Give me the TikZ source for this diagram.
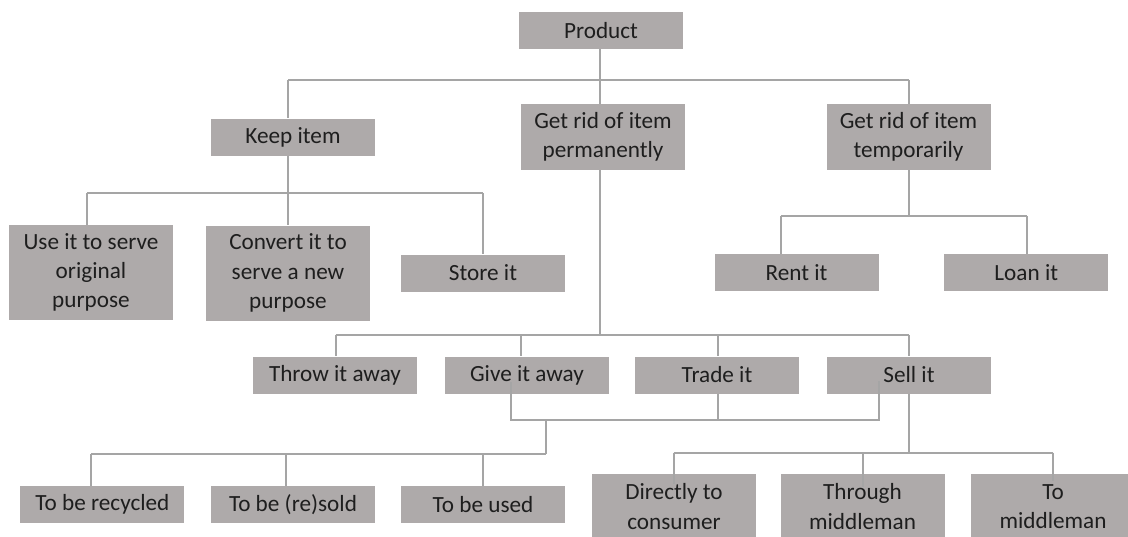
\documentclass[tikz,border=0pt]{standalone}
\usepackage{fontspec}
\setmainfont{Carlito}
\begin{document}
\begin{tikzpicture}[x=0.75pt,y=-0.75pt,
  box/.style={fill=boxgray, text=textdark, align=center, inner sep=0pt,
    minimum width=123pt, minimum height=27.75pt,
    font=\fontsize{17.4}{21.9}\selectfont},
  tall/.style={minimum height=49.5pt},
  taller/.style={minimum height=71.25pt},
  link/.style={draw=linegray, line width=1.5pt}]
\definecolor{boxgray}{HTML}{AEAAAA}
\definecolor{linegray}{HTML}{A5A5A5}
\definecolor{textdark}{HTML}{1E1E1E}
\useasboundingbox (0,0) rectangle (1128,536);
\clip (0,0) rectangle (1128,536);

% boxes
\node[box] (product) at (601,30.5) {Product};
\node[box] (keep) at (293,137) {Keep item};
\node[box,tall] (perm) at (603,137) {Get rid of item\\permanently};
\node[box,tall] (temp) at (908.5,137) {Get rid of item\\temporarily};
\node[box,taller] (use) at (91,272.5) {Use it to serve\\original\\purpose};
\node[box,taller] (convert) at (288,273) {Convert it to\\serve a new\\purpose};
\node[box] (store) at (483,273) {Store it};
\node[box] (rent) at (796.5,272.5) {Rent it};
\node[box] (loan) at (1026.3,272.5) {Loan it};
\node[box] (throw) at (335,375) {Throw it away};
\node[box] (give) at (527,375) {Give it away};
\node[box] (trade) at (717,375) {Trade it};
\node[box] (sell) at (909,375) {Sell it};
\node[box] (recycled) at (102.4,504.5) {To be recycled};
\node[box] (resold) at (293,504.5) {To be (re)sold};
\node[box] (used) at (483,504.5) {To be used};
\node[box,tall] (direct) at (674,506.5) {Directly to\\consumer};
\node[box,tall] (through) at (862.5,506.5) {Through\\middleman};
\node[box,tall] (tomid) at (1053,506.5) {To\\middleman};

% junction points on the buses
\coordinate (tp) at (600,80);
\coordinate (tk) at (288,80);
\coordinate (tt) at (908.6,80);
\coordinate (kc) at (288,193);
\coordinate (ku) at (87.4,193);
\coordinate (ks) at (482.7,193);
\coordinate (rc) at (908.6,216);
\coordinate (rr) at (781,216);
\coordinate (rl) at (1026.6,216);
\coordinate (pc) at (600,335);
\coordinate (pt) at (335.6,335);
\coordinate (pg) at (520.5,335);
\coordinate (pr) at (717.6,335);
\coordinate (ps) at (908.6,335);
\coordinate (mg) at (510.7,420);
\coordinate (mt) at (717.6,420);
\coordinate (ms) at (878.7,420);
\coordinate (md) at (546,420);
\coordinate (lc) at (546,454);
\coordinate (lr) at (91.4,454);
\coordinate (ls) at (286,454);
\coordinate (lu) at (483,454);
\coordinate (sc) at (908.6,452.5);
\coordinate (sd) at (673.7,452.5);
\coordinate (st) at (862.6,452.5);
\coordinate (sm) at (1052.6,452.5);

% product level
\draw[link] (tp |- product.south) -- (tp);
\draw[link] (tk) -- (tt);
\draw[link] (tk) -- (tk |- keep.north);
\draw[link] (tp) -- (tp |- perm.north);
\draw[link] (tt) -- (tt |- temp.north);

% keep item
\draw[link] (kc |- keep.south) -- (kc);
\draw[link] (ku) -- (ks);
\draw[link] (ku) -- (ku |- use.north);
\draw[link] (kc) -- (kc |- convert.north);
\draw[link] (ks) -- (ks |- store.north);

% temporarily
\draw[link] (rc |- temp.south) -- (rc);
\draw[link] (rr) -- (rl);
\draw[link] (rr) -- (rr |- rent.north);
\draw[link] (rl) -- (rl |- loan.north);

% permanently
\draw[link] (pc |- perm.south) -- (pc);
\draw[link] (pt) -- (ps);
\draw[link] (pt) -- (pt |- throw.north);
\draw[link] (pg) -- (pg |- give.north);
\draw[link] (pr) -- (pr |- trade.north);
\draw[link] (ps) -- (ps |- sell.north);

% give, trade and sell joined towards the receiving side
\draw[link] ([yshift=-5.25pt]mg |- give.center) -- (mg) -- (ms) -- ([yshift=-4.5pt]ms |- sell.center);
\draw[link] (mt |- trade.south) -- (mt);
\draw[link] (md) -- (lc);
\draw[link] (lr) -- (lc);
\draw[link] (lr) -- (lr |- recycled.north);
\draw[link] (ls) -- (ls |- resold.north);
\draw[link] (lu) -- (lu |- used.north);

% selling channels
\draw[link] (sc |- sell.south) -- (sc);
\draw[link] (sd) -- (sm);
\draw[link] (sd) -- ([yshift=-8pt]sd |- direct.north);
\draw[link] (st) -- ([yshift=-10pt]st |- through.north);
\draw[link] (sm) -- ([yshift=-6pt]sm |- tomid.north);
\end{tikzpicture}
\end{document}
